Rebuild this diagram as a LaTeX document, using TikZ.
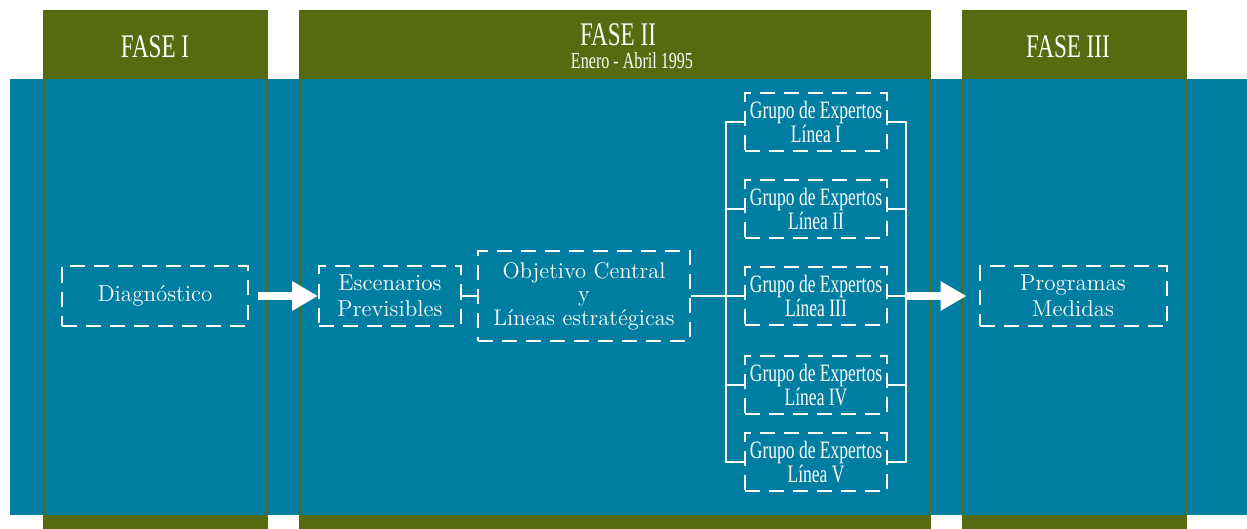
\documentclass[tikz,border=0pt]{standalone}
\usepackage{fontspec}
\usepackage{tikz}
\usetikzlibrary{arrows.meta,positioning}
\newfontfamily\condfont[FakeStretch=0.7]{Liberation Serif}
\definecolor{fasegreen}{RGB}{86,107,16}
\definecolor{bandteal}{RGB}{0,126,161}

\begin{document}
\begin{tikzpicture}
	[x=0.5pt, y=-0.5pt, >={Triangle[length=13pt,width=14pt]},
	 caja/.style={draw=white, line width=1pt, dash pattern=on 7.5pt off 4.5pt,
	   text=white, align=center, inner sep=0pt,
	   font=\addfontfeatures{FakeBold=0.4}\fontsize{11.5}{13}\selectfont},
	 grupo/.style={caja, minimum width=71pt, minimum height=29pt,
	   font=\condfont\fontsize{12.5}{12}\selectfont},
	 titulo/.style={text=white, font=\condfont\fontsize{16.5}{16}\selectfont},
	 enlace/.style={draw=white, line width=1pt},
	 flecha/.style={draw=white, line width=4pt, ->}]
\useasboundingbox (0,0) rectangle (1247,529);

% columnas y banda
\fill[fasegreen] (44,11) rectangle (267,529);
\fill[fasegreen] (300,11) rectangle (930,529);
\fill[fasegreen] (963,11) rectangle (1186,529);
\fill[bandteal] (10,79) rectangle (1247,515);
\draw[fasegreen, line width=1.2pt] (44,11) rectangle (267,529);
\draw[fasegreen, line width=1.2pt] (300,11) rectangle (930,529);
\draw[fasegreen, line width=1.2pt] (963,11) rectangle (1186,529);

\node[titulo](f_1) at (155,47) {FASE I};
\node[titulo](f_2) at (618,35) {FASE II};
\node[text=white, font=\condfont\fontsize{11.5}{12}\selectfont](fecha) at (632,61) {Enero - Abril 1995};
\node[titulo](f_3) at (1068,47) {FASE III};

\node[caja, minimum width=93pt, minimum height=29.5pt](diag) at (155,296) {Diagnóstico};
\node[caja, minimum width=71pt, minimum height=29.5pt](esc) at (390,296) {Escenarios\\Previsibles};
\node[caja, minimum width=106pt, minimum height=45pt,
  font=\addfontfeatures{FakeBold=0.4}\fontsize{11.3}{11.8}\selectfont](obj) at (584,296) {Objetivo Central\\y\\Líneas estratégicas};
\node[grupo](g_1) at (816,122) {Grupo de Expertos\\Línea I};
\node[grupo](g_2) at (816,209) {Grupo de Expertos\\Línea II};
\node[grupo](g_3) at (816,296) {Grupo de Expertos\\Línea III};
\node[grupo](g_4) at (816,385) {Grupo de Expertos\\Línea IV};
\node[grupo](g_5) at (816,462) {Grupo de Expertos\\Línea V};
\node[caja, minimum width=93.5pt, minimum height=29.5pt](prog) at (1073,296) {Programas\\Medidas};

\coordinate (lb) at (726,296);
\coordinate (rb) at (906,296);

\draw[flecha, shorten <=4.5pt] (diag) -- (esc);
\draw[enlace] (esc) -- (obj);
\draw[enlace] (obj) -- (lb);
\draw[enlace] (g_1.west) -| (lb) |- (g_5.west);
\draw[enlace] (g_2.west) -- (g_2.west -| lb);
\draw[enlace] (g_3.west) -- (g_3.west -| lb);
\draw[enlace] (g_4.west) -- (g_4.west -| lb);
\draw[enlace] (g_1.east) -| (rb) |- (g_5.east);
\draw[enlace] (g_2.east) -- (g_2.east -| rb);
\draw[enlace] (g_3.east) -- (g_3.east -| rb);
\draw[enlace] (g_4.east) -- (g_4.east -| rb);
\draw[flecha, shorten >=6pt] (rb) -- (prog);
\end{tikzpicture}
\end{document}
